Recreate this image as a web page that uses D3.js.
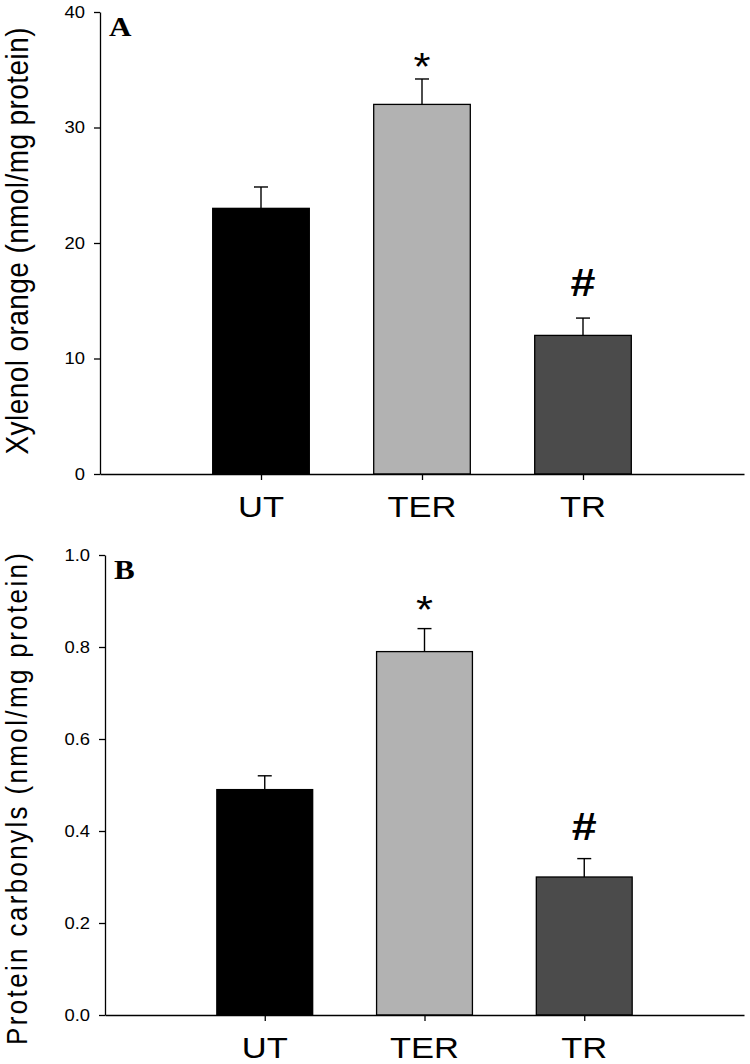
<!DOCTYPE html>
<html>
<head>
<meta charset="utf-8">
<script src="https://cdn.jsdelivr.net/npm/d3@7"></script>
<style>
  html, body { margin: 0; padding: 0; background: #fff; }
  svg { display: block; }
</style>
</head>
<body>
<svg id="chart" width="750" height="1064"></svg>
<script>
// ---- data ----
const categories = ["UT", "TER", "TR"];
const barColors = ["#000000", "#b2b2b2", "#4b4b4b"];

const valuesA = [23, 32, 12];
const errorsA = [1.85, 2.2, 1.5];
const ticksA = [0, 10, 20, 30, 40];
const marksA = ["", "*", "#"];
const markPosA = [null, 36, 16.6];
const titleA = "Xylenol orange (nmol/mg protein)";

const valuesB = [0.49, 0.79, 0.30];
const errorsB = [0.03, 0.05, 0.04];
const ticksB = [0, 0.2, 0.4, 0.6, 0.8, 1.0];
const marksB = ["", "*", "#"];
const markPosB = [null, 0.9, 0.41];
const titleB = "Protein carbonyls (nmol/mg protein)";

const SX = 1.15; // horizontal stretch of the original raster
const SANS = "Arial, 'Liberation Sans', sans-serif";
const SERIF = "'Liberation Serif', 'Times New Roman', serif";

const svg = d3.select("#chart");

function stretchedText(g, x, y, str, opts) {
  const t = g.append("text")
    .attr("transform", `translate(${x},${y}) scale(${SX},1)` + (opts.rotate ? ` rotate(${opts.rotate})` : ""))
    .attr("text-anchor", opts.anchor || "middle")
    .style("font-family", opts.family || SANS)
    .style("font-size", opts.size + "px")
    .style("font-weight", opts.weight || "normal")
    .attr("fill", "#000")
    .text(str);
  if (opts.baseline) t.attr("dominant-baseline", opts.baseline);
  if (opts.length) t.attr("textLength", opts.length).attr("lengthAdjust", "spacing");
  return t;
}

function drawPanel(p) {
  const g = svg.append("g");
  const x = d3.scalePoint().domain(categories).range([p.left, p.right]).padding(1);
  const y = d3.scaleLinear().domain([0, p.max]).range([p.bottom, p.top]);
  const bw = x.step() * 0.6;

  // bars
  g.selectAll("rect.bar").data(categories).join("rect")
    .attr("x", d => x(d) - bw / 2)
    .attr("y", (d, i) => y(p.values[i]))
    .attr("width", bw)
    .attr("height", (d, i) => y(0) - y(p.values[i]))
    .attr("fill", (d, i) => barColors[i])
    .attr("stroke", "#000")
    .attr("stroke-width", 1.3);

  // error bars (upper)
  categories.forEach((c, i) => {
    const cx = x(c);
    const y0 = y(p.values[i]);
    const y1 = y(p.values[i] + p.errors[i]);
    g.append("line").attr("x1", cx).attr("x2", cx).attr("y1", y0).attr("y2", y1)
      .attr("stroke", "#000").attr("stroke-width", 1.4);
    g.append("line").attr("x1", cx - 7).attr("x2", cx + 7).attr("y1", y1).attr("y2", y1)
      .attr("stroke", "#000").attr("stroke-width", 1.4);
  });

  // y axis
  const ya = g.append("g").attr("transform", `translate(${p.left},0)`)
    .call(d3.axisLeft(y).tickValues(p.ticks).tickSize(6).tickSizeOuter(0).tickFormat(""));
  ya.select(".domain").attr("stroke-width", 1.3);
  ya.selectAll(".tick line").attr("stroke-width", 1.3);
  p.ticks.forEach(t => {
    stretchedText(g, p.left - 15, y(t), p.fmt(t), { anchor: "end", size: 16, baseline: "central" });
  });

  // x axis
  const xa = g.append("g").attr("transform", `translate(0,${p.bottom})`)
    .call(d3.axisBottom(x).tickSize(6).tickSizeOuter(0).tickFormat(""));
  xa.select(".domain").attr("stroke-width", 1.3);
  xa.selectAll(".tick line").attr("stroke-width", 1.3);
  categories.forEach(c => {
    stretchedText(g, x(c), p.bottom + 43, c, { size: 30 });
  });

  // significance marks
  categories.forEach((c, i) => {
    if (!p.marks[i]) return;
    const cy = y(p.markPos[i]);
    if (p.marks[i] === "*") {
      stretchedText(g, x(c), cy + 22, "*", { size: 38 });
    } else {
      stretchedText(g, x(c), cy + 14, "#", { size: 39, weight: "bold" });
    }
  });

  // panel letter
  stretchedText(g, p.left + 9, p.top + 24, p.letter,
    { anchor: "start", size: 27, weight: "bold", family: SERIF });

  // y title
  stretchedText(g, p.titleX, p.titleY, p.title,
    { size: p.titleSize, rotate: -90, length: p.titleLen });
}

drawPanel({
  left: 100, right: 744, top: 12, bottom: 474, max: 40,
  values: valuesA, errors: errorsA, ticks: ticksA, fmt: d3.format("d"),
  marks: marksA, markPos: markPosA, letter: "A",
  title: titleA, titleX: 28, titleY: 241, titleSize: 28, titleLen: 427
});

drawPanel({
  left: 105, right: 744, top: 555, bottom: 1015, max: 1.0,
  values: valuesB, errors: errorsB, ticks: ticksB, fmt: d3.format(".1f"),
  marks: marksB, markPos: markPosB, letter: "B",
  title: titleB, titleX: 27, titleY: 799, titleSize: 26, titleLen: 492
});
</script>
</body>
</html>
